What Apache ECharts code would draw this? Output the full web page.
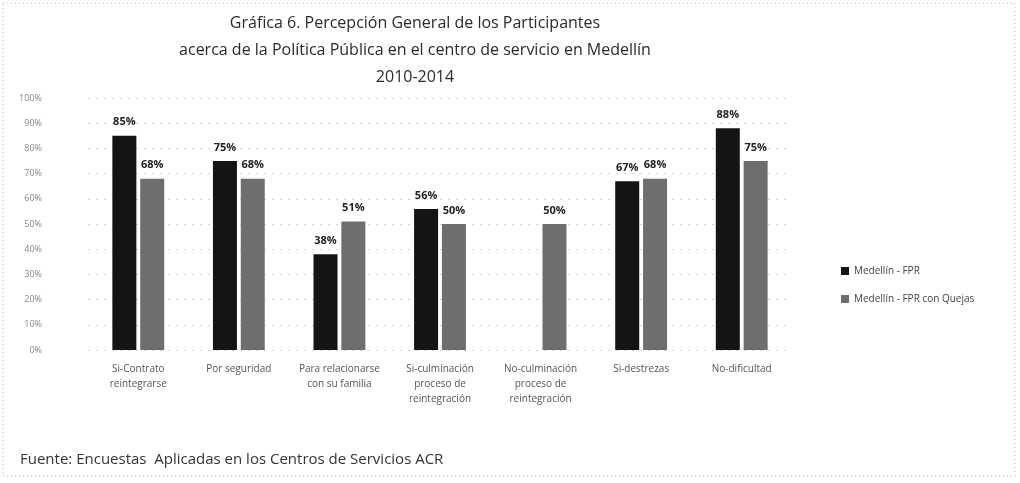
<!DOCTYPE html>
<html>
<head>
<meta charset="utf-8">
<script src="https://cdn.jsdelivr.net/npm/echarts@6/dist/echarts.min.js"></script>
<style>
  html, body { margin: 0; padding: 0; background: #fff; }
  #chart { width: 1020px; height: 483px; }
</style>
</head>
<body>
<div id="chart"></div>
<script>
// categorias y valores (%)
var categorias = [
  'Si-Contrato\nreintegrarse',
  'Por seguridad',
  'Para relacionarse\ncon su familia',
  'Si-culminación\nproceso de\nreintegración',
  'No-culminación\nproceso de\nreintegración',
  'Si-destrezas',
  'No-dificultad'
];
var serieNombres = ['Medellín - FPR', 'Medellín - FPR con Quejas'];
var valoresFPR = [85, 75, 38, 56, null, 67, 88];
var valoresQuejas = [68, 68, 51, 50, 50, 68, 75];

var myChart = echarts.init(document.getElementById('chart'), null, { renderer: 'canvas' });

var fuente = '"Open Sans", "Noto Sans", sans-serif';

var option = {
  animation: false,
  backgroundColor: '#fff',
  color: ['#141414', '#6e6e6e'],
  title: {
    text: 'Gráfica 6. Percepción General de los Participantes\nacerca de la Política Pública en el centro de servicio en Medellín\n2010-2014',
    left: 410,
    top: 5,
    textAlign: 'center',
    textStyle: {
      fontFamily: fuente,
      fontSize: 16,
      fontWeight: 'normal',
      color: '#2a2a2a',
      lineHeight: 27
    }
  },
  legend: {
    orient: 'vertical',
    left: 836,
    top: 261,
    itemWidth: 8,
    itemHeight: 8,
    itemGap: 18,
    icon: 'rect',
    textStyle: { fontFamily: fuente, fontSize: 10, color: '#444' },
    data: serieNombres
  },
  grid: {
    left: 88,
    right: 228,
    top: 98,
    bottom: 133
  },
  xAxis: {
    type: 'category',
    data: categorias,
    axisLine: { show: false },
    axisTick: { show: false },
    axisLabel: {
      interval: 0,
      fontFamily: fuente,
      fontSize: 10,
      color: '#555',
      lineHeight: 15,
      margin: 12
    }
  },
  yAxis: {
    type: 'value',
    min: 0,
    max: 100,
    interval: 10,
    axisLine: { show: false },
    axisTick: { show: false },
    axisLabel: {
      formatter: '{value}%',
      fontFamily: fuente,
      fontSize: 9,
      color: '#888',
      margin: 46
    },
    splitLine: { lineStyle: { color: '#d0d0d0', type: [2, 6], width: 1 } }
  },
  series: [
    {
      name: serieNombres[0],
      type: 'bar',
      data: valoresFPR,
      barWidth: 24,
      barGap: '16%',
      label: {
        show: true,
        position: 'top',
        formatter: '{c}%',
        fontFamily: fuente,
        fontSize: 11,
        fontWeight: 'bold',
        color: '#222',
        distance: 8
      }
    },
    {
      name: serieNombres[1],
      type: 'bar',
      data: valoresQuejas,
      barWidth: 24,
      label: {
        show: true,
        position: 'top',
        formatter: '{c}%',
        fontFamily: fuente,
        fontSize: 11,
        fontWeight: 'bold',
        color: '#222',
        distance: 8
      }
    }
  ],
  graphic: [
    {
      type: 'rect',
      shape: { x: 3, y: 3, width: 1012, height: 473 },
      style: { fill: 'none', stroke: '#bbb', lineWidth: 1, lineDash: [1, 3] }
    },
    {
      type: 'text',
      left: 20,
      top: 452,
      style: {
        text: 'Fuente: Encuestas  Aplicadas en los Centros de Servicios ACR',
        font: '15px "Open Sans", "Noto Sans", sans-serif',
        fill: '#333'
      }
    }
  ]
};

myChart.setOption(option);
</script>
</body>
</html>
